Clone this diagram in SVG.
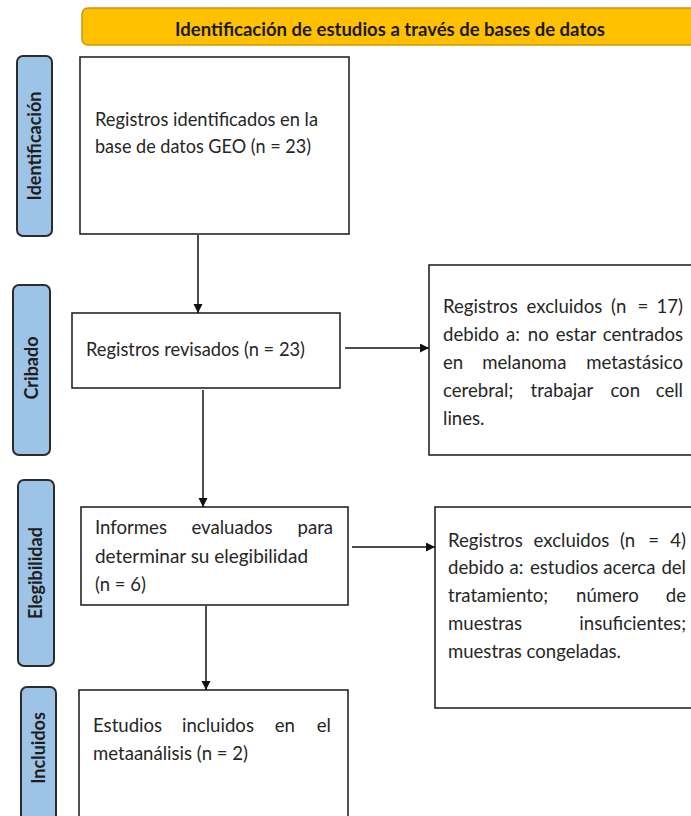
<svg xmlns="http://www.w3.org/2000/svg" width="691" height="816" viewBox="0 0 691 816">
<defs>
<marker id="ah" markerUnits="userSpaceOnUse" markerWidth="12" markerHeight="12" refX="9" refY="4.5" orient="auto">
<path d="M0,0 L9,4.5 L0,9 Z" fill="#111"/>
</marker>
</defs>
<style>
.box{fill:#fff;stroke:#262626;stroke-width:1.6}
.side{fill:#9dc3e6;stroke:#2b2b2b;stroke-width:2}
.st{font-family:Lato,"Open Sans",sans-serif;font-weight:bold;font-size:18px;fill:#1e1e1e;text-anchor:middle}
.t{font-family:Lato,"Open Sans",sans-serif;font-size:18.6px;fill:#262626}
.e{text-anchor:end}
.con{stroke:#111;stroke-width:1.5;fill:none;marker-end:url(#ah)}
</style>
<g id="header">
<rect x="82" y="8" width="625" height="37" rx="6" fill="#ffc000" stroke="#c8970a" stroke-width="1.5"/>
<text x="390" y="36" font-family="Lato,'Open Sans',sans-serif" font-weight="bold" font-size="18" fill="#1a1a1a" text-anchor="middle" textLength="430" lengthAdjust="spacingAndGlyphs">Identificación de estudios a través de bases de datos</text>
</g>
<g id="lbl-identificacion">
<rect class="side" x="17" y="56" width="35" height="180" rx="6"/>
<text class="st" transform="translate(41,146) rotate(-90)">Identificación</text>
</g>
<g id="lbl-cribado">
<rect class="side" x="13" y="285" width="37" height="170" rx="6"/>
<text class="st" transform="translate(38,368) rotate(-90)">Cribado</text>
</g>
<g id="lbl-elegibilidad">
<rect class="side" x="18" y="480" width="36" height="186" rx="6"/>
<text class="st" transform="translate(42,573) rotate(-90)">Elegibilidad</text>
</g>
<g id="lbl-incluidos">
<rect class="side" x="21" y="687" width="35" height="150" rx="6"/>
<text class="st" transform="translate(45,748) rotate(-90)">Incluidos</text>
</g>
<g id="n-identificados">
<rect class="box" x="80" y="57" width="269" height="177"/>
<text class="t" x="95" y="126" textLength="223" lengthAdjust="spacingAndGlyphs">Registros identificados en la</text>
<text class="t" x="95" y="153" textLength="216" lengthAdjust="spacingAndGlyphs">base de datos GEO (n = 23)</text>
</g>
<g id="n-revisados">
<rect class="box" x="72" y="313" width="268" height="75"/>
<text class="t" x="86" y="356" textLength="219" lengthAdjust="spacingAndGlyphs">Registros revisados (n = 23)</text>
</g>
<g id="n-excluidos17">
<rect class="box" x="429" y="265" width="280" height="190"/>
<text class="t" y="313"><tspan x="443">Registros</tspan><tspan x="526.6">excluidos</tspan><tspan x="611.1">(n</tspan><tspan x="637.4">=</tspan><tspan x="683" text-anchor="end">17)</tspan></text>
<text class="t" y="341"><tspan x="443">debido</tspan><tspan x="505.9">a:</tspan><tspan x="527.8">no</tspan><tspan x="555.7">estar</tspan><tspan x="683" text-anchor="end">centrados</tspan></text>
<text class="t" y="369"><tspan x="443">en</tspan><tspan x="482.2">melanoma</tspan><tspan x="683" text-anchor="end">metastásico</tspan></text>
<text class="t" y="397"><tspan x="443">cerebral;</tspan><tspan x="530.5">trabajar</tspan><tspan x="610.4">con</tspan><tspan x="683" text-anchor="end">cell</tspan></text>
<text class="t" x="443" y="425">lines.</text>
</g>
<g id="n-informes">
<rect class="box" x="81" y="507" width="267" height="98"/>
<text class="t" y="534"><tspan x="95">Informes</tspan><tspan x="191.4">evaluados</tspan><tspan x="333" text-anchor="end">para</tspan></text>
<text class="t" x="95" y="563" textLength="213" lengthAdjust="spacingAndGlyphs">determinar su elegibilidad</text>
<text class="t" x="95" y="591" textLength="51" lengthAdjust="spacingAndGlyphs">(n = 6)</text>
</g>
<g id="n-excluidos4">
<rect class="box" x="435" y="507" width="280" height="201"/>
<text class="t" y="547"><tspan x="448">Registros</tspan><tspan x="533.6">excluidos</tspan><tspan x="620">(n</tspan><tspan x="648.3">=</tspan><tspan x="686" text-anchor="end">4)</tspan></text>
<text class="t" y="574"><tspan x="448">debido</tspan><tspan x="509.5">a:</tspan><tspan x="530">estudios</tspan><tspan x="603.2">acerca</tspan><tspan x="686" text-anchor="end">del</tspan></text>
<text class="t" y="602"><tspan x="448">tratamiento;</tspan><tspan x="576">número</tspan><tspan x="686" text-anchor="end">de</tspan></text>
<text class="t" y="630"><tspan x="448">muestras</tspan><tspan x="686" text-anchor="end">insuficientes;</tspan></text>
<text class="t" x="448" y="658" textLength="173" lengthAdjust="spacingAndGlyphs">muestras congeladas.</text>
</g>
<g id="n-incluidos">
<rect class="box" x="79" y="690" width="269" height="140"/>
<text class="t" y="732"><tspan x="93">Estudios</tspan><tspan x="182">incluidos</tspan><tspan x="274.8">en</tspan><tspan x="331" text-anchor="end">el</tspan></text>
<text class="t" x="93" y="760" textLength="155" lengthAdjust="spacingAndGlyphs">metaanálisis (n = 2)</text>
</g>
<g id="connectors">
<line class="con" x1="198" y1="235" x2="198" y2="313"/>
<line class="con" x1="203" y1="390" x2="203" y2="507"/>
<line class="con" x1="206" y1="606" x2="206" y2="690"/>
<line class="con" x1="345" y1="348" x2="429" y2="348"/>
<line class="con" x1="352" y1="547" x2="435" y2="547"/>
</g>
</svg>
